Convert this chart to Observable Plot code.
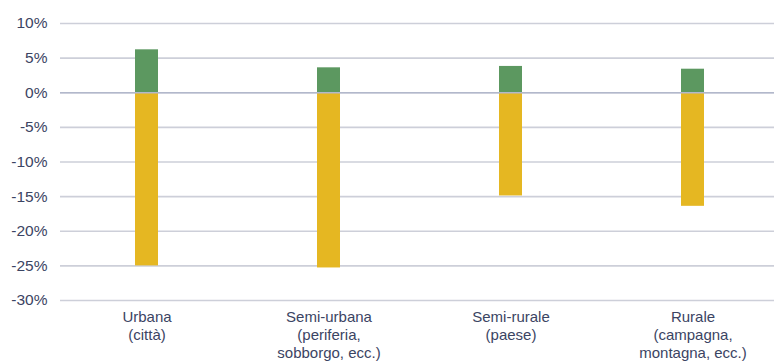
<!DOCTYPE html>
<html>
<head>
<meta charset="utf-8">
<script src="https://cdn.jsdelivr.net/npm/d3@7"></script>
<script src="https://cdn.jsdelivr.net/npm/@observablehq/plot@0.6"></script>
<style>
  html, body { margin: 0; padding: 0; background: #fff; }
  #chart svg { display: block; }
</style>
</head>
<body>
<div id="chart"></div>
<script>
const categories = [
  "Urbana\n(città)",
  "Semi-urbana\n(periferia,\nsobborgo, ecc.)",
  "Semi-rurale\n(paese)",
  "Rurale\n(campagna,\nmontagna, ecc.)"
];
const positiveValues = [6.2, 3.6, 3.8, 3.4];
const negativeValues = [-25.0, -25.3, -14.9, -16.4];
const yTicks = [-30, -25, -20, -15, -10, -5, 0, 5, 10];

const pos = categories.map((c, i) => ({category: c, value: positiveValues[i]}));
const neg = categories.map((c, i) => ({category: c, value: negativeValues[i]}));

const textColor = "#3b4463";
const font = "'Liberation Sans', Arial, sans-serif";

const chart = Plot.plot({
  width: 774,
  height: 362,
  marginTop: 23,
  marginBottom: 62,
  marginLeft: 60,
  marginRight: 0,
  style: {fontFamily: font, fontSize: "15px", color: textColor, background: "#fff"},
  x: {domain: categories, range: [64, 774], paddingInner: 0.874, paddingOuter: 0.384, label: null},
  y: {domain: [-30, 10], label: null},
  marks: [
    Plot.gridY(yTicks, {stroke: "#cdcfd9", strokeOpacity: 1, strokeWidth: 1.6}),
    Plot.barY(pos, {x: "category", y1: 0, y2: "value", fill: "#5c9860"}),
    Plot.barY(neg, {x: "category", y1: 0, y2: "value", fill: "#e5b722"}),
    Plot.ruleY([0], {stroke: "#b2b8cb", strokeWidth: 1.6}),
    Plot.axisY(yTicks, {tickSize: 0, tickPadding: 13, tickFormat: d => d + "%", fill: textColor, fontSize: 15.5, label: null}),
    Plot.axisX({tickSize: 0, tickPadding: 9, fill: textColor, fontSize: 15, lineHeight: 1.2, label: null})
  ]
});
document.getElementById("chart").appendChild(chart);
</script>
</body>
</html>
